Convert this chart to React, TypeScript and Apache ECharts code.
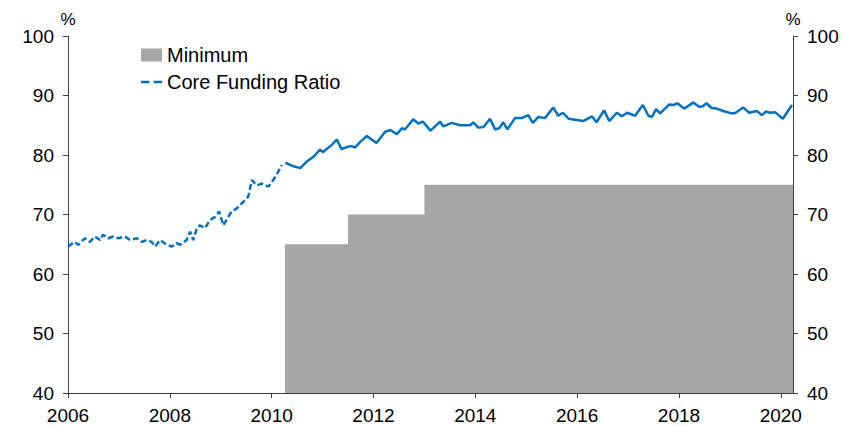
import React, { useEffect, useRef } from "react";
import * as echarts from "echarts";

const FONT = "'Liberation Sans', Arial, Helvetica, sans-serif";
const BLUE = "#0070c0";
const GREY = "#a6a6a6";
const AXIS = "#404040";

const xTicks = [2006, 2008, 2010, 2012, 2014, 2016, 2018, 2020];
const yTicks = [40, 50, 60, 70, 80, 90, 100];

const minimumSteps: [number, number][] = [
  [2010.26, 65],
  [2011.5, 70],
  [2013.0, 75],
  [2020.24, 75],
];

const coreFundingDashed: [number, number][] = [
  [2006.0, 64.6], [2006.13, 65.4], [2006.2, 64.9], [2006.33, 66.0], [2006.43, 65.4],
  [2006.53, 66.3], [2006.63, 65.7], [2006.69, 66.6], [2006.79, 66.0], [2006.89, 66.3],
  [2006.99, 66.0], [2007.12, 66.3], [2007.22, 65.7], [2007.35, 66.0], [2007.45, 65.4],
  [2007.55, 65.7], [2007.64, 65.4], [2007.71, 64.6], [2007.81, 65.7], [2007.94, 64.9],
  [2008.04, 64.6], [2008.13, 65.2], [2008.2, 64.9], [2008.33, 65.7], [2008.4, 67.1],
  [2008.46, 65.7], [2008.53, 67.7], [2008.59, 68.2], [2008.69, 67.7], [2008.79, 69.1],
  [2008.89, 69.6], [2008.97, 70.5], [2009.05, 68.2], [2009.15, 69.6], [2009.21, 70.5],
  [2009.31, 71.0], [2009.44, 72.1], [2009.54, 73.0], [2009.61, 75.8], [2009.71, 74.9],
  [2009.81, 75.2], [2009.94, 74.7], [2010.07, 76.3], [2010.2, 78.3],
];

const coreFundingSolid: [number, number][] = [
  [2010.27, 78.7], [2010.43, 78.1], [2010.56, 77.8], [2010.69, 78.9], [2010.82, 79.7],
  [2010.95, 80.9], [2011.01, 80.5], [2011.18, 81.7], [2011.28, 82.6], [2011.37, 81.0],
  [2011.54, 81.5], [2011.64, 81.3], [2011.74, 82.2], [2011.87, 83.2], [2012.06, 82.0],
  [2012.23, 83.9], [2012.33, 84.2], [2012.46, 83.5], [2012.56, 84.5], [2012.62, 84.3],
  [2012.78, 86.0], [2012.88, 85.3], [2012.97, 85.6], [2013.12, 84.1], [2013.31, 85.6],
  [2013.37, 84.8], [2013.54, 85.4], [2013.7, 85.0], [2013.9, 85.0], [2013.96, 85.5],
  [2014.06, 84.6], [2014.16, 84.7], [2014.29, 86.1], [2014.39, 84.3], [2014.47, 84.5],
  [2014.55, 85.5], [2014.63, 84.3], [2014.78, 86.2], [2014.91, 86.2], [2015.04, 86.7],
  [2015.13, 85.4], [2015.24, 86.4], [2015.37, 86.2], [2015.53, 88.0], [2015.63, 86.6],
  [2015.72, 87.1], [2015.83, 86.1], [2015.99, 85.9], [2016.12, 85.7], [2016.29, 86.5],
  [2016.38, 85.5], [2016.53, 87.5], [2016.63, 85.7], [2016.78, 87.1], [2016.88, 86.5],
  [2016.98, 87.1], [2017.14, 86.6], [2017.29, 88.4], [2017.4, 86.6], [2017.47, 86.4],
  [2017.55, 87.7], [2017.63, 87.0], [2017.81, 88.5], [2017.89, 88.4], [2017.97, 88.7],
  [2018.1, 87.8], [2018.28, 88.8], [2018.4, 88.1], [2018.47, 88.2], [2018.54, 88.7],
  [2018.64, 87.9], [2018.74, 87.8], [2018.87, 87.4], [2019.03, 87.0], [2019.1, 87.0],
  [2019.26, 88.0], [2019.38, 87.1], [2019.53, 87.4], [2019.63, 86.7], [2019.71, 87.3],
  [2019.79, 87.1], [2019.89, 87.2], [2020.04, 86.1], [2020.22, 88.4],
];

export default function App() {
  const ref = useRef<HTMLDivElement>(null);
  useEffect(() => {
    if (!ref.current) return;
    const chart = echarts.init(ref.current, undefined, { renderer: "svg" });
    const yAxisBase = {
      type: "value" as const,
      min: yTicks[0],
      max: yTicks[yTicks.length - 1],
      interval: 10,
      name: "%",
      nameLocation: "end" as const,
      nameGap: 8,
      nameTextStyle: { fontFamily: FONT, fontSize: 17, color: "#000" },
      axisLine: { show: true, lineStyle: { color: AXIS, width: 1 } },
      axisTick: { show: true, inside: false, length: 5, lineStyle: { color: AXIS } },
      axisLabel: { fontFamily: FONT, fontSize: 19, color: "#000", margin: 14 },
      splitLine: { show: false },
    };
    chart.setOption({
      animation: false,
      backgroundColor: "#fff",
      grid: { left: 68, right: 52, top: 36, bottom: 33, containLabel: false },
      legend: {
        orient: "vertical",
        left: 141,
        top: 44,
        padding: 0,
        itemWidth: 21,
        itemHeight: 13,
        itemGap: 5,
        symbolKeepAspect: true,
        textStyle: { fontFamily: FONT, fontSize: 20, color: "#000", lineHeight: 22 },
        data: [
          { name: "Minimum", icon: "rect" },
          {
            name: "Core Funding Ratio",
            icon: "path://M0 0H8V2.5H0Z M12 0H20V2.5H12Z",
          },
        ],
      },
      xAxis: {
        type: "value",
        min: xTicks[0],
        max: 2020.24,
        interval: 2,
        axisLine: { show: true, onZero: false, lineStyle: { color: AXIS, width: 1 } },
        axisTick: { show: true, inside: false, length: 5, lineStyle: { color: AXIS } },
        axisLabel: {
          fontFamily: FONT,
          fontSize: 19,
          color: "#000",
          margin: 13,
          showMaxLabel: false,
          formatter: (v: number) => (xTicks.includes(v) ? String(v) : ""),
        },
        splitLine: { show: false },
      },
      yAxis: [
        { ...yAxisBase, position: "left" },
        { ...yAxisBase, position: "right" },
      ],
      series: [
        {
          name: "Minimum",
          type: "line",
          step: "end",
          data: minimumSteps,
          symbol: "none",
          lineStyle: { width: 0, color: GREY },
          itemStyle: { color: GREY },
          areaStyle: { color: GREY, opacity: 1, origin: "start" },
          z: 1,
        },
        {
          name: "Core Funding Ratio",
          type: "line",
          data: coreFundingDashed,
          symbol: "none",
          itemStyle: { color: BLUE },
          lineStyle: { color: BLUE, width: 2.5, type: [6, 3] },
          z: 3,
        },
        {
          name: "Core Funding Ratio (solid)",
          type: "line",
          data: coreFundingSolid,
          symbol: "none",
          itemStyle: { color: BLUE },
          lineStyle: { color: BLUE, width: 2.5, type: "solid" },
          z: 3,
        },
      ],
    });
    return () => chart.dispose();
  }, []);
  return <div ref={ref} style={{ width: 845, height: 426, position: "absolute", left: 0, top: 0 }} />;
}
